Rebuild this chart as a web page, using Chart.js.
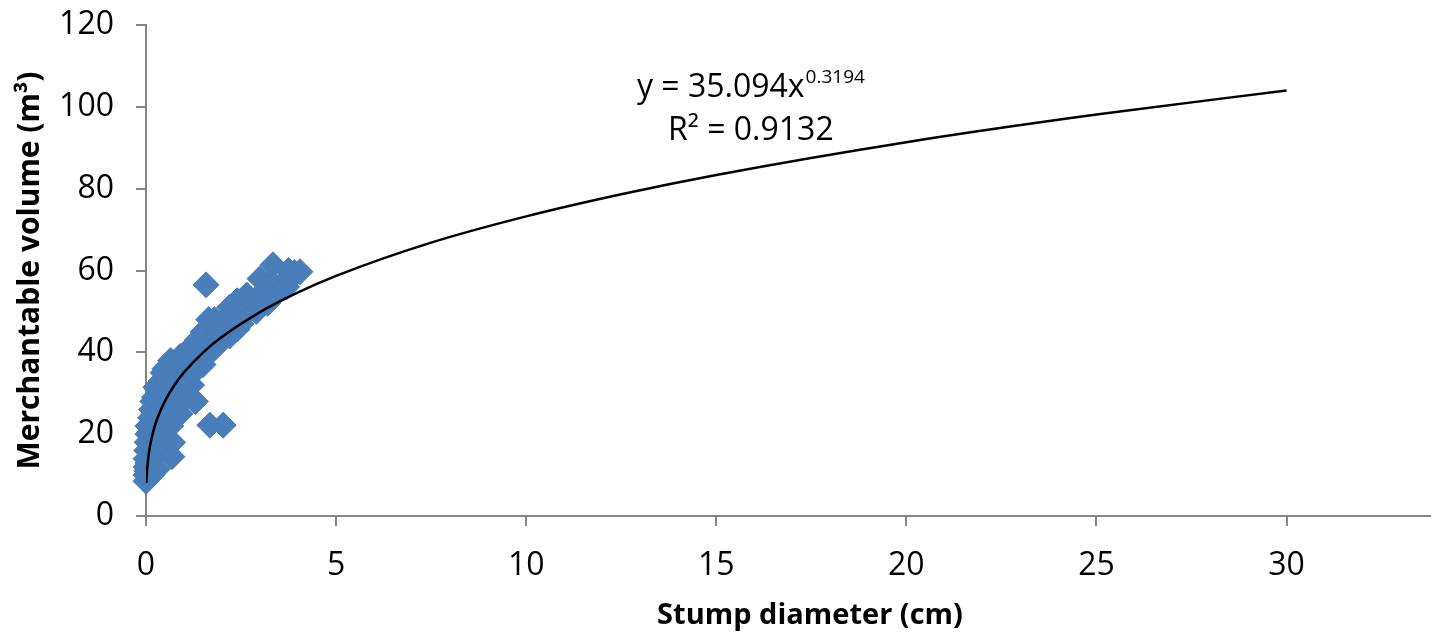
<!DOCTYPE html>
<html>
<head>
<meta charset="utf-8">
<script src="https://cdn.jsdelivr.net/npm/chart.js@4.4.1/dist/chart.umd.min.js"></script>
<style>
  html, body { margin: 0; padding: 0; background: #fff; }
  #wrap { width: 1431px; height: 640px; }
</style>
</head>
<body>
<div id="wrap"><canvas id="volumeChart" width="1431" height="640"></canvas></div>
<script>
const stumpDiameter = [
  0, 0, 0, 0, 0.02, 0.03, 0.05, 0.05, 0.12, 0.15, 0.18, 0.05, 0.02,
  0.15, 0.15, 0.18, 0.2, 0.2, 0.15, 0.22, 0.26,
  0.3, 0.3, 0.32, 0.3, 0.33, 0.35, 0.3, 0.4,
  0.68, 0.45, 0.5, 0.55, 0.5, 0.5, 0.55, 0.5, 0.45,
  0.7, 0.65, 0.7, 0.72, 0.7, 0.7, 0.75, 0.65,
  0.9, 0.95, 1.0, 0.95, 1.0, 0.9, 1.05,
  1.3, 1.2, 1.25, 1.3, 1.2, 1.35,
  1.5, 1.6, 1.55, 1.5, 1.65,
  1.58, 1.68, 2.03,
  1.8, 2.03, 1.9, 2.0, 1.8,
  2.2, 2.4, 2.25, 2.2, 2.4,
  2.5, 2.66, 2.7, 2.65,
  2.9, 3.08, 3.1, 3.0,
  3.2, 3.35, 3.34, 3.3,
  3.5, 3.6, 3.7, 3.8, 3.9, 3.75, 4.05
];
const merchVolume = [
  8.5, 10, 12, 14, 16, 18, 20, 22, 24, 26, 28, 13, 11,
  10, 14, 17, 20, 23, 26, 29, 31.5,
  11.5, 15, 19, 22, 25, 28, 31, 33,
  14.5, 18, 21, 24, 27, 30, 33, 36, 35,
  18, 22, 25, 28, 31, 34, 37, 38,
  25, 28, 31, 34, 37, 39, 40,
  28, 32, 35, 38, 41, 43,
  37, 39.3, 42, 45, 48,
  56.5, 22.2, 22.2,
  41, 43.3, 45, 47.5, 48,
  44, 45.7, 49, 51, 52.6,
  47, 50, 53, 54,
  50, 52.3, 55, 58,
  52, 55, 61.4, 57,
  55, 57, 56, 58, 59.5, 60, 59.7
];

// power trend line
const trendX = [0.01, 0.02, 0.05, 0.1, 0.2, 0.3, 0.5, 0.75, 1, 1.5, 2, 3, 4, 5, 7.5, 10, 12.5, 15, 20, 25, 30];
const trendY = [8.06, 10.06, 13.48, 16.82, 20.99, 23.89, 28.12, 32.01, 35.09, 39.95, 43.79, 49.84, 54.64, 58.68, 66.8, 73.22, 78.63, 83.35, 91.36, 98.11, 104.0];

const xTicks = [0, 5, 10, 15, 20, 25, 30];
const yTicks = [0, 20, 40, 60, 80, 100, 120];

const FONT = '"Open Sans", sans-serif';
const AXIS_GREY = '#868686';

// equation label and x-axis title drawn on top of the plot
const chartText = {
  id: 'chartText',
  afterDraw(chart) {
    const ctx = chart.ctx;
    ctx.save();
    ctx.fillStyle = '#000';
    ctx.textAlign = 'left';
    ctx.textBaseline = 'alphabetic';
    ctx.font = '32px ' + FONT;
    const main = 'y = 35.094x';
    ctx.fillText(main, 637, 97);
    const w = ctx.measureText(main).width;
    ctx.font = '19px ' + FONT;
    ctx.fillText('0.3194', 637 + w + 1, 83);
    ctx.font = '32px ' + FONT;
    ctx.fillText('R\u00B2 = 0.9132', 668, 140);

    // x title sits a little right of the plot centre in the original
    ctx.textAlign = 'center';
    ctx.textBaseline = 'middle';
    ctx.font = 'bold 29px ' + FONT;
    ctx.fillText('Stump diameter (cm)', 810, 616);
    ctx.restore();
  }
};

const points = stumpDiameter.map((x, i) => ({ x: x, y: merchVolume[i] }));
const trend = trendX.map((x, i) => ({ x: x, y: trendY[i] }));

new Chart(document.getElementById('volumeChart').getContext('2d'), {
  type: 'scatter',
  data: {
    datasets: [{
      label: 'Trend',
      type: 'line',
      data: trend,
      borderColor: '#000',
      borderWidth: 2.5,
      pointRadius: 0,
      fill: false,
      cubicInterpolationMode: 'monotone',
      order: 0
    }, {
      label: 'Merchantable volume',
      data: points,
      pointStyle: 'rectRot',
      pointRadius: 13,
      backgroundColor: 'rgb(74,126,187)',
      borderColor: 'rgb(72,123,184)',
      borderWidth: 1,
      clip: false,
      order: 1
    }]
  },
  options: {
    responsive: false,
    animation: false,
    events: [],
    layout: { autoPadding: false, padding: { top: 25, right: 0, left: 0, bottom: 0 } },
    plugins: {
      legend: { display: false },
      tooltip: { enabled: false }
    },
    scales: {
      x: {
        type: 'linear',
        min: 0,
        max: 33.8,
        afterBuildTicks: (scale) => { scale.ticks = xTicks.map(v => ({ value: v })); },
        afterFit: (scale) => {
          scale.height = 124;
          scale.paddingLeft = 0;
          scale.paddingRight = 0;
        },
        border: { display: true, color: AXIS_GREY, width: 2 },
        grid: { drawOnChartArea: false, drawTicks: true, tickLength: 10, color: AXIS_GREY, lineWidth: 2 },
        ticks: { color: '#000', font: { family: FONT, size: 32 }, padding: 21, maxRotation: 0 },
        title: { display: false }
      },
      y: {
        min: 0,
        max: 120,
        afterBuildTicks: (scale) => { scale.ticks = yTicks.map(v => ({ value: v })); },
        afterFit: (scale) => {
          scale.width = 146;
          scale.paddingTop = 0;
          scale.paddingBottom = 0;
        },
        border: { display: true, color: AXIS_GREY, width: 2 },
        grid: { drawOnChartArea: false, drawTicks: true, tickLength: 10, color: AXIS_GREY, lineWidth: 2 },
        ticks: { color: '#000', font: { family: FONT, size: 32 }, padding: 22 },
        title: {
          display: true,
          text: 'Merchantable volume (m\u00B3)',
          color: '#000',
          font: { family: FONT, size: 30, weight: 'bold' },
          padding: { top: 12, bottom: 0 }
        }
      }
    }
  },
  plugins: [chartText]
});
</script>
</body>
</html>
